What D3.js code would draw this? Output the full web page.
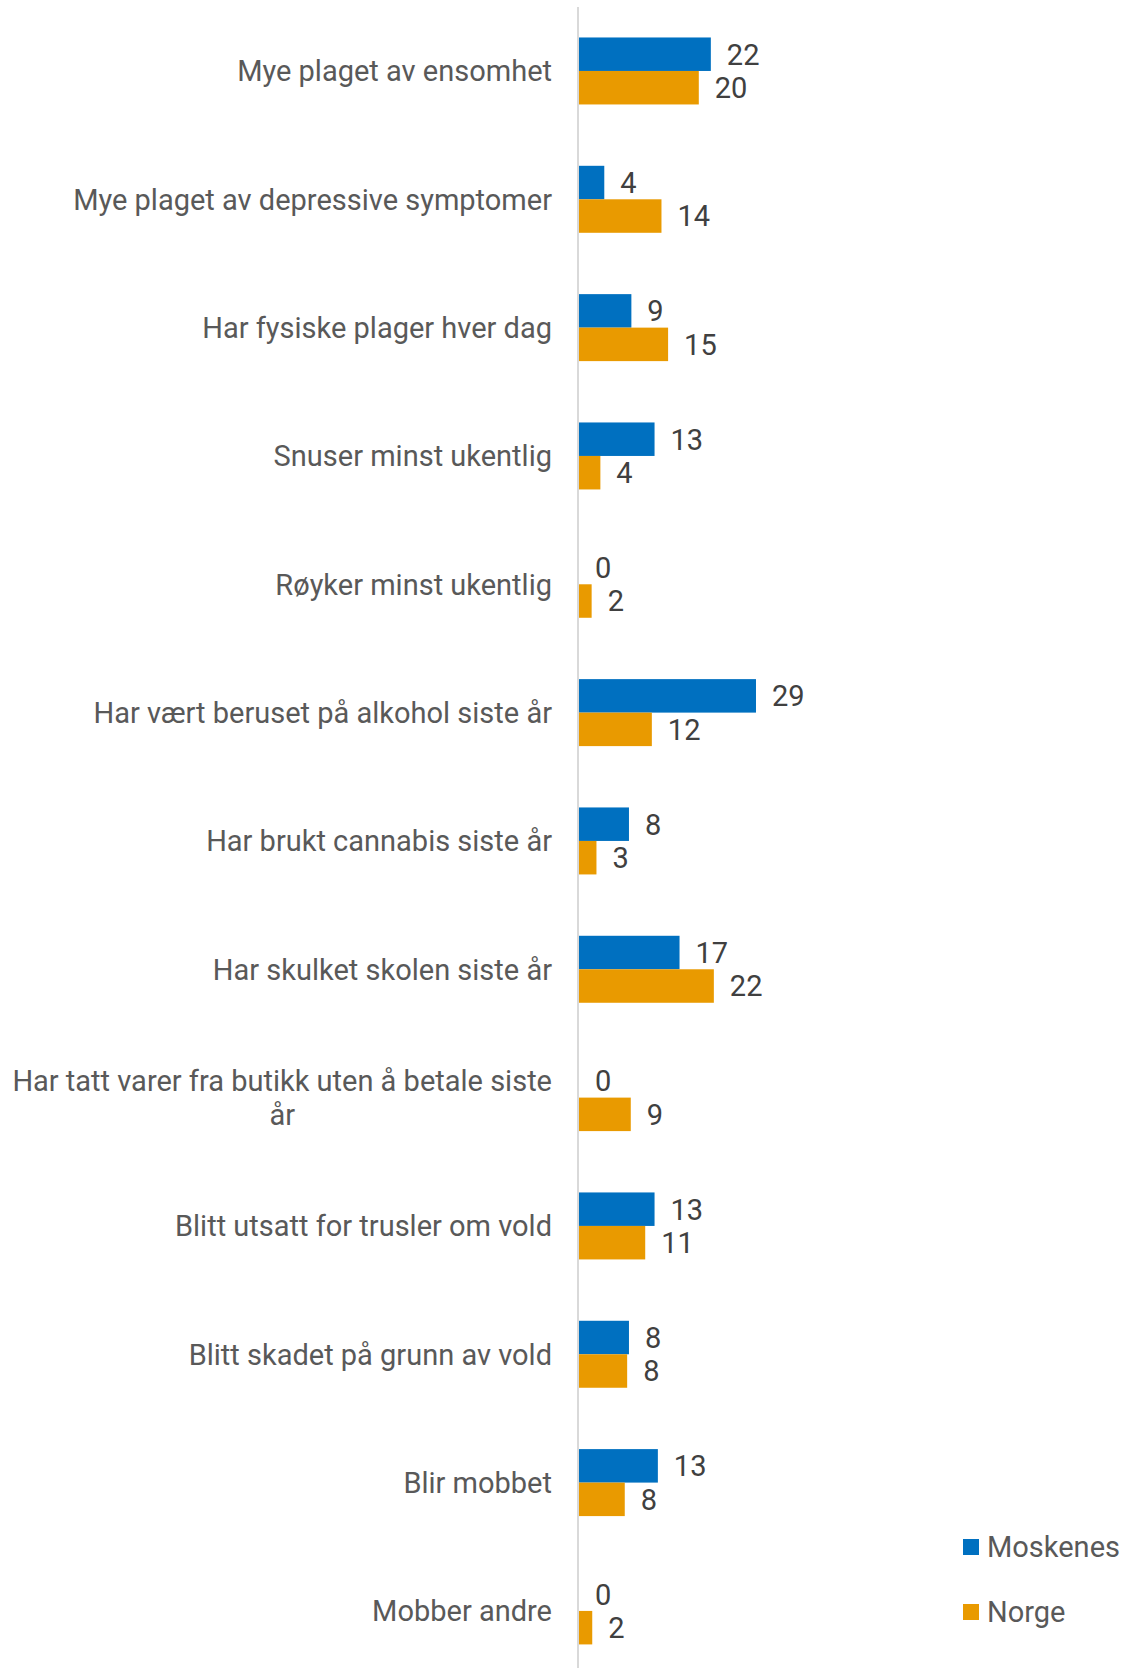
<!DOCTYPE html>
<html>
<head>
<meta charset="utf-8">
<script src="https://cdn.jsdelivr.net/npm/d3@7"></script>
<style>
  body { margin: 0; background: #fff; }
  text { font-family: Roboto, "Noto Sans", sans-serif; }
</style>
</head>
<body>
<script>
// data (labels show the rounded value)
var categories = [
  "Mye plaget av ensomhet",
  "Mye plaget av depressive symptomer",
  "Har fysiske plager hver dag",
  "Snuser minst ukentlig",
  "Røyker minst ukentlig",
  "Har vært beruset på alkohol siste år",
  "Har brukt cannabis siste år",
  "Har skulket skolen siste år",
  "Har tatt varer fra butikk uten å betale siste|år",
  "Blitt utsatt for trusler om vold",
  "Blitt skadet på grunn av vold",
  "Blir mobbet",
  "Mobber andre"
];
var seriesNames = ["Moskenes", "Norge"];
var moskenes = [21.9, 4.2, 8.7, 12.55, 0, 29.4, 8.3, 16.7, 0, 12.55, 8.3, 13.1, 0];
var norge = [19.9, 13.7, 14.8, 3.55, 2.1, 12.1, 2.9, 22.4, 8.6, 11.0, 8.0, 7.6, 2.2];
var colors = ["#0070C0", "#E99A00"];

var W = 1123, H = 1668;
var x0 = 579;
var fs = "29px";

var svg = d3.select("body").append("svg")
  .attr("width", W)
  .attr("height", H);

var y = d3.scaleBand()
  .domain(categories)
  .range([6.8, 6.8 + 13 * 128.33])
  .paddingInner(0.478)
  .paddingOuter(0.239);

var ySub = d3.scaleBand()
  .domain(seriesNames)
  .range([0, y.bandwidth()]);

var x = d3.scaleLinear()
  .domain([0, 1])
  .range([x0, x0 + 6.02]);

var rows = categories.map(function (c, i) {
  return { cat: c, vals: [moskenes[i], norge[i]] };
});

var g = svg.selectAll("g.row")
  .data(rows)
  .enter().append("g")
  .attr("class", "row")
  .attr("transform", function (d) { return "translate(0," + y(d.cat) + ")"; });

g.selectAll("rect")
  .data(function (d) { return d.vals.map(function (v, j) { return { v: v, s: seriesNames[j], j: j }; }); })
  .enter().append("rect")
  .attr("x", x(0))
  .attr("y", function (d) { return ySub(d.s); })
  .attr("width", function (d) { return x(d.v) - x(0); })
  .attr("height", ySub.bandwidth())
  .style("fill", function (d) { return colors[d.j]; });

g.selectAll("text.val")
  .data(function (d) { return d.vals.map(function (v, j) { return { v: v, s: seriesNames[j] }; }); })
  .enter().append("text")
  .attr("class", "val")
  .attr("x", function (d) { return x(d.v) + 16; })
  .attr("y", function (d) { return ySub(d.s) + ySub.bandwidth() / 2; })
  .attr("dy", "0.36em")
  .style("font-size", fs)
  .style("fill", "#404040")
  .text(function (d) { return Math.round(d.v); });

// category labels
g.each(function (d) {
  var lines = d.cat.split("|");
  var cy = y.bandwidth() / 2;
  var lh = 34;
  var top = cy - (lines.length - 1) * lh / 2;
  var first = d3.select(this).append("text")
    .attr("x", x0 - 27)
    .attr("y", top)
    .attr("dy", "0.36em")
    .attr("text-anchor", "end")
    .style("font-size", fs)
    .style("fill", "#595959")
    .text(lines[0]);
  if (lines.length > 1) {
    var w = first.node().getComputedTextLength();
    d3.select(this).append("text")
      .attr("x", x0 - 27 - w / 2)
      .attr("y", top + lh)
      .attr("dy", "0.36em")
      .attr("text-anchor", "middle")
      .style("font-size", fs)
      .style("fill", "#595959")
      .text(lines[1]);
  }
});

// axis line
svg.append("line")
  .attr("x1", x0 - 1).attr("x2", x0 - 1)
  .attr("y1", 7).attr("y2", H)
  .style("stroke", "#d9d9d9")
  .style("stroke-width", 2);

// legend
var legend = svg.selectAll("g.leg")
  .data(seriesNames)
  .enter().append("g")
  .attr("class", "leg")
  .attr("transform", function (d, i) { return "translate(963," + (1539 + i * 65) + ")"; });

legend.append("rect")
  .attr("width", 16).attr("height", 16)
  .style("fill", function (d, i) { return colors[i]; });

legend.append("text")
  .attr("x", 24)
  .attr("y", 8)
  .attr("dy", "0.36em")
  .style("font-size", fs)
  .style("fill", "#595959")
  .text(function (d) { return d; });
</script>
</body>
</html>
